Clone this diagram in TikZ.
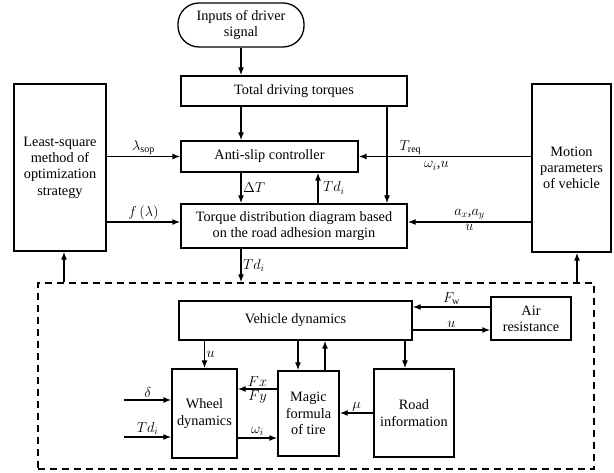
\documentclass[tikz,border=0pt]{standalone}
\usepackage{fontspec}
\setmainfont{Liberation Serif}
\usetikzlibrary{arrows.meta}

\begin{document}
\begin{tikzpicture}[x=1pt, y=-1pt, line width=1.3pt, >={Latex[length=8pt,width=6pt]},
    font=\fontsize{14.3}{16.3}\selectfont,
    block/.style={draw, inner sep=0pt, align=center},
    lbl/.style={inner sep=1.5pt}]
  \useasboundingbox (0,0) rectangle (614,473);
  \node[block, rounded corners=21pt, minimum width=126pt, minimum height=44pt] (input) at (241,25) {Inputs of driver\\signal};
  \node[block, minimum width=226pt, minimum height=30pt] (total) at (294,91) {Total driving torques};
  \node[block, minimum width=177pt, minimum height=31pt] (antislip) at (269.5,156.5) {Anti-slip controller};
  \node[block, minimum width=226pt, minimum height=44pt] (torque) at (294,226) {Torque distribution diagram based\\on the road adhesion margin};
  \node[block, minimum width=92pt, minimum height=167pt] (lsq) at (60,167.5) {Least-square\\method of\\optimization\\strategy};
  \node[block, minimum width=79pt, minimum height=168pt] (motion) at (571.5,168) {Motion\\parameters\\of vehicle};
  \node[draw, dash pattern=on 7pt off 5pt, inner sep=0pt, minimum width=556pt, minimum height=186pt] (plant) at (316,376) {};
  \node[block, minimum width=233pt, minimum height=39pt] (vehicle) at (295.5,320.5) {Vehicle dynamics};
  \node[block, minimum width=80pt, minimum height=43pt] (air) at (531,318.5) {Air\\resistance};
  \node[block, minimum width=65pt, minimum height=89pt] (wheel) at (204.5,413.5) {Wheel\\dynamics};
  \node[block, minimum width=61pt, minimum height=85pt] (magic) at (308.5,413.5) {Magic\\formula\\of tire};
  \node[block, minimum width=80pt, minimum height=88pt] (road) at (414,413) {Road\\information};
  \coordinate (treq) at (387,0);
  \coordinate (tdup) at (318,0);
  \coordinate (upl) at (64,0);
  \coordinate (upr) at (577,0);
  \coordinate (mdn) at (298,0);
  \coordinate (mup) at (325,0);
  \coordinate (rdn) at (405,0);
  \coordinate (inl) at (124,0);

  \draw[->] (input.south) -- (input.south |- total.north);
  \draw[->] (input.south |- total.south) -- (input.south |- antislip.north);
  \draw[->] (treq |- total.south) -- (treq |- torque.north);
  \draw[->] (motion.west |- antislip.east) -- (antislip.east)
    node[lbl, pos=0.7, above] {$T_{\mathrm{req}}$}
    node[lbl, pos=0.55, below=3pt] {$\omega_i$,$u$};
  \draw[->] (lsq.east |- antislip.west) -- (antislip.west) node[lbl, midway, above] {$\lambda_{\mathrm{sop}}$};
  \draw[->] ([yshift=4pt]torque.west -| lsq.east) -- ([yshift=4pt]torque.west) node[lbl, midway, above] {$f\,(\lambda)$};
  \draw[->] ([yshift=4pt]torque.east -| motion.west) -- ([yshift=4pt]torque.east)
    node[lbl, midway, above] {$a_x$,$a_y$}
    node[lbl, midway, below] {$u$};
  \draw[->] (input.south |- antislip.south) -- (input.south |- torque.north) node[lbl, midway, right] {$\Delta T$};
  \draw[->] (tdup |- torque.north) -- (tdup |- antislip.south) node[lbl, midway, right=3pt] {$Td_i$};
  \draw[->] (input.south |- torque.south) -- (input.south |- plant.north) node[lbl, midway, right] {$Td_i$};
  \draw[->] (upl |- plant.north) -- (upl |- lsq.south);
  \draw[->] (upr |- plant.north) -- (upr |- motion.south);

  \draw[->] ([yshift=11.5pt]air.west) -- ([yshift=11.5pt]air.west -| vehicle.east) node[lbl, midway, above] {$F_{\mathrm{w}}$};
  \draw[->] ([yshift=-11.5pt]air.west -| vehicle.east) -- ([yshift=-11.5pt]air.west) node[lbl, midway, above] {$u$};
  \draw[->] (wheel.north |- vehicle.south) -- (wheel.north) node[lbl, midway, right] {$u$};
  \draw[->] (mdn |- vehicle.south) -- (mdn |- magic.north);
  \draw[->] (mup |- magic.north) -- (mup |- vehicle.south);
  \draw[->] (rdn |- vehicle.south) -- (rdn |- road.north);
  \draw[->] ([yshift=24.5pt]magic.west) -- ([yshift=24.5pt]magic.west -| wheel.east)
    node[lbl, midway, above] {$Fx$}
    node[lbl, midway, below] {$Fy$};
  \draw[->] (road.west) -- (road.west -| magic.east) node[lbl, midway, above] {$\mu$};
  \draw[->] ([yshift=-24.5pt]wheel.east) -- ([yshift=-24.5pt]wheel.east -| magic.west) node[lbl, midway, above] {$\omega_i$};
  \draw[->] ([yshift=13.5pt]wheel.west -| inl) -- ([yshift=13.5pt]wheel.west) node[lbl, midway, above] {$\delta$};
  \draw[->] ([yshift=-23.5pt]wheel.west -| inl) -- ([yshift=-23.5pt]wheel.west) node[lbl, midway, above] {$Td_i$};
\end{tikzpicture}
\end{document}
